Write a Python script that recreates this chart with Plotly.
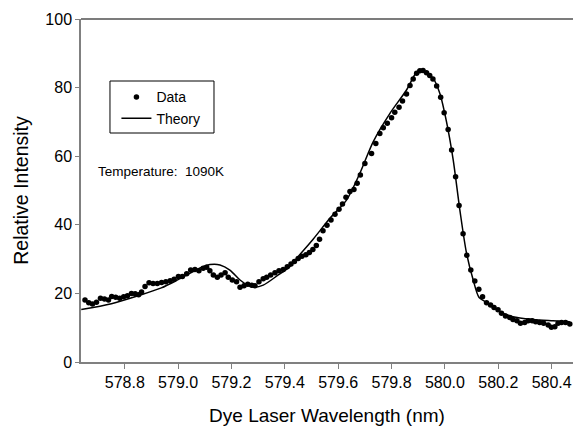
import plotly.graph_objects as go

# ---- data ----
data_wavelength = [
    578.651, 578.665, 578.679, 578.694, 578.709, 578.724, 578.739, 578.751, 578.766, 578.781,
    578.796, 578.810, 578.825, 578.839, 578.852, 578.863, 578.876, 578.891, 578.906, 578.922,
    578.938, 578.954, 578.970, 578.985, 579.001, 579.016, 579.032, 579.047, 579.063, 579.078,
    579.094, 579.107, 579.119, 579.132, 579.147, 579.161, 579.176, 579.188, 579.203, 579.219,
    579.232, 579.247, 579.261, 579.276, 579.288, 579.303, 579.319, 579.332, 579.347, 579.363,
    579.378, 579.394, 579.409, 579.423, 579.436, 579.450, 579.464, 579.479, 579.492, 579.505,
    579.518, 579.530, 579.543, 579.558, 579.573, 579.588, 579.603, 579.616, 579.629, 579.644,
    579.659, 579.671, 579.683, 579.700, 579.725, 579.741, 579.756, 579.769, 579.784, 579.800,
    579.812, 579.828, 579.841, 579.856, 579.869, 579.881, 579.894, 579.906, 579.918, 579.931,
    579.943, 579.955, 579.969, 579.984, 579.997, 580.012, 580.025, 580.040, 580.053, 580.068,
    580.082, 580.097, 580.112, 580.127, 580.141, 580.156, 580.171, 580.184, 580.199, 580.212,
    580.227, 580.243, 580.255, 580.270, 580.283, 580.299, 580.312, 580.327, 580.340, 580.355,
    580.370, 580.387, 580.399, 580.412, 580.424, 580.437, 580.452, 580.468,
]
data_intensity = [
    18.1, 17.3, 16.9, 17.4, 18.6, 18.4, 18.1, 19.1, 18.9, 18.6,
    19.0, 19.3, 20.0, 19.9, 19.6, 20.4, 22.0, 23.1, 22.9, 22.9,
    23.2, 23.4, 23.7, 24.1, 24.9, 24.9, 25.7, 26.8, 27.0, 26.6,
    27.3, 27.6, 26.6, 25.4, 24.7, 25.4, 26.0, 24.7, 23.9, 23.4,
    21.8, 22.2, 22.7, 22.4, 22.2, 23.4, 24.3, 24.7, 25.4, 26.0,
    26.6, 27.0, 27.8, 28.6, 29.3, 30.2, 30.8, 31.3, 31.9, 32.8,
    34.0, 35.8, 38.3, 39.9, 41.4, 43.1, 44.5, 46.1, 48.0, 49.7,
    50.3, 52.1, 54.5, 57.9, 60.8, 63.7, 66.6, 68.3, 69.6, 71.2,
    72.8, 74.3, 76.1, 78.1, 80.6, 82.5, 84.2, 84.9, 85.0, 84.3,
    83.5, 82.5, 80.5, 77.2, 72.7, 67.8, 61.8, 54.0, 45.6, 37.4,
    31.1, 26.8, 23.6, 21.2, 19.0, 17.3, 16.6, 15.9, 15.2, 14.2,
    13.4, 13.0, 12.4, 12.0, 11.3, 11.5, 12.0, 12.0, 11.7, 11.5,
    11.3, 10.8, 10.1, 10.3, 11.3, 11.5, 11.5, 11.1,
]

theory_wavelength = [
    578.637, 578.750, 578.850, 578.937, 579.000, 579.082, 579.119, 579.157, 579.194, 579.232,
    579.263, 579.288, 579.319, 579.374, 579.419, 579.444, 579.506, 579.569, 579.631, 579.681,
    579.731, 579.794, 579.856, 579.894, 579.912, 579.931, 579.956, 579.981, 580.006, 580.031,
    580.056, 580.081, 580.106, 580.128, 580.156, 580.206, 580.255, 580.330, 580.405, 580.468,
]
theory_intensity = [
    15.3, 17.0, 19.3, 21.6, 24.0, 27.4, 28.4, 28.3, 26.8, 23.9,
    22.3, 21.8, 22.4, 25.3, 27.8, 30.2, 35.8, 41.9, 47.2, 55.0,
    64.2, 72.5, 79.3, 84.5, 85.1, 84.2, 82.7, 78.3, 70.0, 58.9,
    44.3, 31.7, 23.9, 18.8, 17.4, 14.7, 13.2, 12.4, 12.0, 11.7,
]

x_ticks = [578.8, 579.0, 579.2, 579.4, 579.6, 579.8, 580.0, 580.2, 580.4]
y_ticks = [0, 20, 40, 60, 80, 100]

FONT = "Liberation Sans, Arial, sans-serif"

fig = go.Figure()
fig.add_trace(go.Scatter(
    x=data_wavelength, y=data_intensity, mode="markers", name="Data",
    marker=dict(color="black", size=5.5),
))
fig.add_trace(go.Scatter(
    x=theory_wavelength, y=theory_intensity, mode="lines", name="Theory",
    line=dict(color="black", width=1.5, shape="spline", smoothing=0.8),
))

fig.add_annotation(
    x=578.6925, y=55.4, xref="x", yref="y", xanchor="left", yanchor="middle",
    text="Temperature:\u00a0\u00a01090K", showarrow=False,
    font=dict(family=FONT, size=13.5, color="black"),
)

# top frame line
fig.add_shape(type="line", xref="paper", yref="paper", x0=0, x1=1, y0=1, y1=1,
              line=dict(color="#505050", width=1.5))
# legend frame
fig.add_shape(type="rect", xref="paper", yref="paper",
              x0=0.0589, x1=0.2703, y0=0.6676, y1=0.8192,
              line=dict(color="black", width=1), fillcolor="rgba(0,0,0,0)", layer="above")

fig.update_layout(
    width=574, height=426,
    margin=dict(l=81, r=1, t=19, b=64),
    paper_bgcolor="white", plot_bgcolor="white",
    font=dict(family=FONT, color="black"),
    showlegend=True,
    legend=dict(
        x=0.072, y=0.818, xanchor="left", yanchor="top",
        borderwidth=0, bgcolor="rgba(0,0,0,0)",
        font=dict(family=FONT, size=14, color="black"),
        tracegroupgap=0,
    ),
)
fig.update_xaxes(
    range=[578.636, 580.48], tickvals=x_ticks, ticktext=[f"{v:.1f}" for v in x_ticks],
    showgrid=False, zeroline=False, showline=True, linecolor="#808080", linewidth=1.5,
    ticks="outside", ticklen=5, tickcolor="#808080", tickwidth=1, automargin=False,
    tickfont=dict(family=FONT, size=16, color="black"),
    title=dict(text="Dye Laser Wavelength (nm)", font=dict(family=FONT, size=19, color="black"), standoff=23),
)
fig.update_yaxes(
    range=[0, 100], tickvals=y_ticks,
    showgrid=False, zeroline=False, showline=True, linecolor="#808080", linewidth=1.5,
    ticks="outside", ticklen=4, tickcolor="#808080", tickwidth=1, automargin=False,
    tickfont=dict(family=FONT, size=16, color="black"),
    title=dict(text="Relative Intensity", font=dict(family=FONT, size=19.5, color="black"), standoff=12),
)

fig.write_html("out.html")
